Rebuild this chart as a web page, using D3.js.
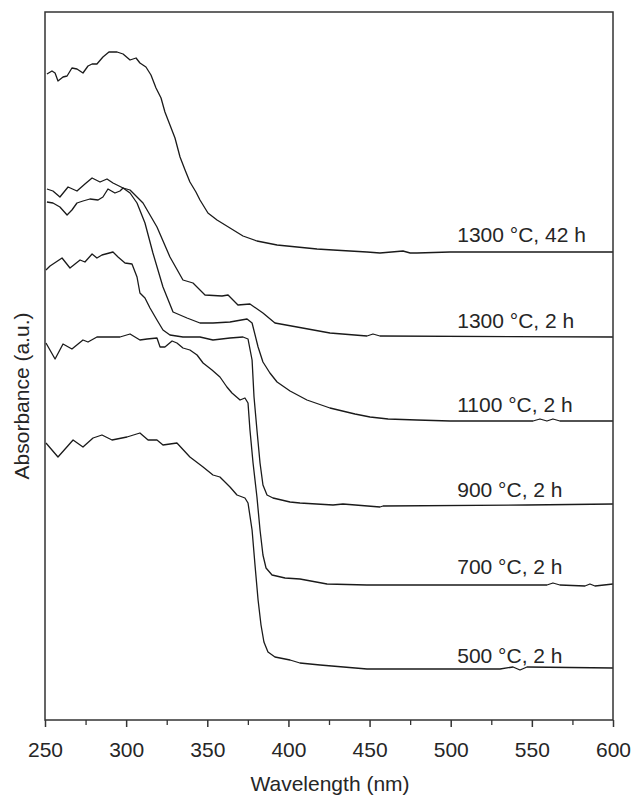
<!DOCTYPE html>
<html>
<head>
<meta charset="utf-8">
<script src="https://cdn.jsdelivr.net/npm/d3@7"></script>
<style>
  html, body { margin: 0; padding: 0; background: #fff; }
  svg { display: block; }
  text { font-family: "Liberation Sans", Arial, sans-serif; fill: #262626; }
</style>
</head>
<body>
<svg id="chart" width="632" height="798"></svg>
<script>
// ---- Data (wavelength in nm, absorbance in a.u. with vertical offsets as in the figure) ----
const seriesLabels = ["1300 \u00B0C, 42 h", "1300 \u00B0C, 2 h", "1100 \u00B0C, 2 h", "900 \u00B0C, 2 h", "700 \u00B0C, 2 h", "500 \u00B0C, 2 h"];

const wl_1300_42 = [251.2,254.3,256.2,258.0,261.1,263.6,266.6,269.7,273.4,276.5,279.0,282.0,285.7,289.4,294.4,298.1,302.4,306.1,308.5,312.2,315.3,318.4,321.5,323.9,327.0,330.1,333.2,336.3,339.3,343.0,345.5,350.4,356.0,364.0,372.0,380.6,393.0,405.3,417.6,427.5,448.4,456.4,470.6,475.0,479.2,499.6,600.0];
const ab_1300_42 = [6.46,6.49,6.47,6.39,6.43,6.44,6.52,6.51,6.47,6.54,6.56,6.56,6.63,6.68,6.68,6.66,6.60,6.62,6.57,6.53,6.45,6.32,6.22,6.08,5.95,5.82,5.63,5.50,5.38,5.28,5.20,5.07,5.00,4.92,4.84,4.79,4.75,4.73,4.71,4.70,4.68,4.67,4.69,4.67,4.67,4.68,4.68];

const wl_1300_2 = [251.2,254.9,259.2,263.6,266.6,269.7,273.4,277.7,282.7,285.7,288.8,293.1,296.2,298.1,302.4,310.4,319.0,327.0,335.0,341.2,348.6,359.1,362.8,368.9,376.3,384.3,391.7,405.3,425.6,448.4,452.1,456.4,600.0];
const ab_1300_2 = [5.18,5.17,5.13,5.05,5.10,5.17,5.19,5.21,5.20,5.23,5.31,5.27,5.29,5.32,5.30,5.17,4.93,4.63,4.40,4.37,4.25,4.24,4.25,4.15,4.16,4.07,3.97,3.93,3.87,3.84,3.86,3.84,3.83];

const wl_1100_2 = [251.2,254.9,259.2,264.2,269.7,274.6,279.0,283.9,288.2,291.9,298.1,302.4,306.7,311.6,316.5,322.7,328.9,337.5,345.5,353.5,364.0,374.5,377.6,381.3,384.3,388.6,393.0,401.0,411.4,425.6,441.0,450.3,461.4,479.2,499.6,550.7,555.0,559.3,563.0,567.3,600.0];
const ab_1100_2 = [5.31,5.29,5.23,5.33,5.29,5.36,5.42,5.38,5.41,5.37,5.32,5.27,5.17,4.97,4.67,4.33,4.08,4.02,3.97,3.97,3.98,4.01,3.97,3.73,3.58,3.47,3.38,3.29,3.20,3.12,3.06,3.03,3.01,3.00,2.99,2.99,3.01,2.99,3.01,2.99,2.99];

const wl_900_2 = [250.6,253.1,260.5,265.4,271.6,274.6,279.0,282.0,285.1,291.9,295.0,299.3,303.6,306.7,308.5,311.6,314.7,319.0,322.7,327.0,335.0,345.5,353.5,364.0,372.0,375.1,377.6,378.8,380.6,382.5,384.3,386.8,390.5,401.0,407.1,427.5,433.6,456.4,458.3,547.0,600.0];
const ab_900_2 = [4.50,4.54,4.62,4.52,4.60,4.58,4.66,4.62,4.65,4.68,4.63,4.57,4.56,4.43,4.27,4.22,4.12,4.00,3.90,3.85,3.83,3.83,3.80,3.82,3.83,3.81,3.60,3.23,2.90,2.57,2.35,2.25,2.22,2.18,2.17,2.15,2.16,2.13,2.14,2.15,2.16];

const wl_700_2 = [250.6,256.2,261.1,266.6,273.4,276.5,282.0,290.1,296.2,302.4,308.5,312.9,319.0,320.9,323.9,328.3,331.3,335.0,339.3,343.7,347.4,352.9,357.8,362.1,365.2,370.2,373.2,375.1,376.3,378.2,380.6,382.5,384.3,386.2,389.9,397.9,407.1,423.8,448.4,559.3,563.0,567.3,582.7,585.8,588.9,600.0];
const ab_700_2 = [3.77,3.61,3.76,3.71,3.80,3.78,3.83,3.83,3.83,3.86,3.80,3.81,3.82,3.73,3.73,3.79,3.77,3.72,3.70,3.65,3.57,3.50,3.43,3.33,3.27,3.20,3.22,3.17,2.90,2.57,2.23,1.90,1.65,1.52,1.45,1.42,1.41,1.36,1.35,1.35,1.37,1.35,1.34,1.36,1.34,1.36];

const wl_500_2 = [250.6,258.0,267.3,273.4,279.6,285.1,291.3,300.5,308.5,313.5,319.0,322.7,331.3,339.3,347.4,353.5,357.8,364.0,368.3,373.2,375.1,377.6,379.4,381.3,383.1,384.9,387.4,391.7,401.0,407.1,419.5,448.4,530.4,538.4,542.7,547.0,600.0];
const ab_500_2 = [2.77,2.63,2.80,2.73,2.82,2.85,2.80,2.83,2.87,2.80,2.80,2.75,2.77,2.63,2.53,2.45,2.43,2.33,2.25,2.22,2.17,1.90,1.55,1.20,0.95,0.78,0.68,0.63,0.60,0.57,0.55,0.51,0.51,0.53,0.50,0.53,0.52];

const labelWavelength = 504;
const labelAbsorbance = [4.78, 3.92, 3.08, 2.23, 1.46, 0.57];

const xTicks = [250, 300, 350, 400, 450, 500, 550, 600];
const xMinorTicks = [275, 325, 375, 425, 475, 525, 575];
const xDomain = [250, 600];
const yDomain = [0, 7.08];

// ---- Build series table ----
const wls = [wl_1300_42, wl_1300_2, wl_1100_2, wl_900_2, wl_700_2, wl_500_2];
const abs = [ab_1300_42, ab_1300_2, ab_1100_2, ab_900_2, ab_700_2, ab_500_2];
const series = seriesLabels.map((name, i) => ({
  name,
  points: wls[i].map((w, j) => ({ w, a: abs[i][j] })),
  labelA: labelAbsorbance[i]
}));

// ---- Layout ----
const plot = { left: 45, right: 613, top: 12, bottom: 720 };
const svg = d3.select("#chart");
const x = d3.scaleLinear().domain(xDomain).range([plot.left, plot.right]);
const y = d3.scaleLinear().domain(yDomain).range([plot.bottom, plot.top]);

const frameColor = "#333";
const fontSize = 21;

// Lines
const line = d3.line().x(d => x(d.w)).y(d => y(d.a)).curve(d3.curveLinear);
svg.append("g").selectAll("path")
  .data(series)
  .join("path")
  .attr("d", d => line(d.points))
  .attr("fill", "none")
  .attr("stroke", "#1a1a1a")
  .attr("stroke-width", 1.3)
  .attr("stroke-linejoin", "round");

// Frame
svg.append("rect")
  .attr("x", plot.left).attr("y", plot.top)
  .attr("width", plot.right - plot.left).attr("height", plot.bottom - plot.top)
  .attr("fill", "none").attr("stroke", frameColor).attr("stroke-width", 1.5);

// X axis (major)
const xAxis = svg.append("g")
  .attr("transform", `translate(0,${plot.bottom})`)
  .call(d3.axisBottom(x).tickValues(xTicks).tickSize(7).tickFormat(d3.format("d")));
xAxis.select(".domain").remove();
xAxis.selectAll(".tick line").attr("stroke", frameColor).attr("stroke-width", 1.5);
xAxis.selectAll(".tick text")
  .attr("y", 37).attr("dy", 0)
  .style("font-size", fontSize + "px")
  .style("font-family", "'Liberation Sans', Arial, sans-serif")
  .attr("fill", "#262626");

// X axis (minor)
const xMinor = svg.append("g")
  .attr("transform", `translate(0,${plot.bottom})`)
  .call(d3.axisBottom(x).tickValues(xMinorTicks).tickSize(5).tickFormat(""));
xMinor.select(".domain").remove();
xMinor.selectAll(".tick line").attr("stroke", frameColor).attr("stroke-width", 1.3);

// Axis titles
svg.append("text")
  .attr("x", (plot.left + plot.right) / 2 + 1)
  .attr("y", 791)
  .attr("text-anchor", "middle")
  .style("font-size", fontSize + "px")
  .text("Wavelength (nm)");

svg.append("text")
  .attr("transform", "translate(29,396) rotate(-90)")
  .attr("text-anchor", "middle")
  .style("font-size", fontSize + "px")
  .text("Absorbance (a.u.)");

// Series labels
svg.append("g").selectAll("text")
  .data(series)
  .join("text")
  .attr("x", x(labelWavelength))
  .attr("y", d => y(d.labelA))
  .style("font-size", fontSize + "px")
  .text(d => d.name);
</script>
</body>
</html>
